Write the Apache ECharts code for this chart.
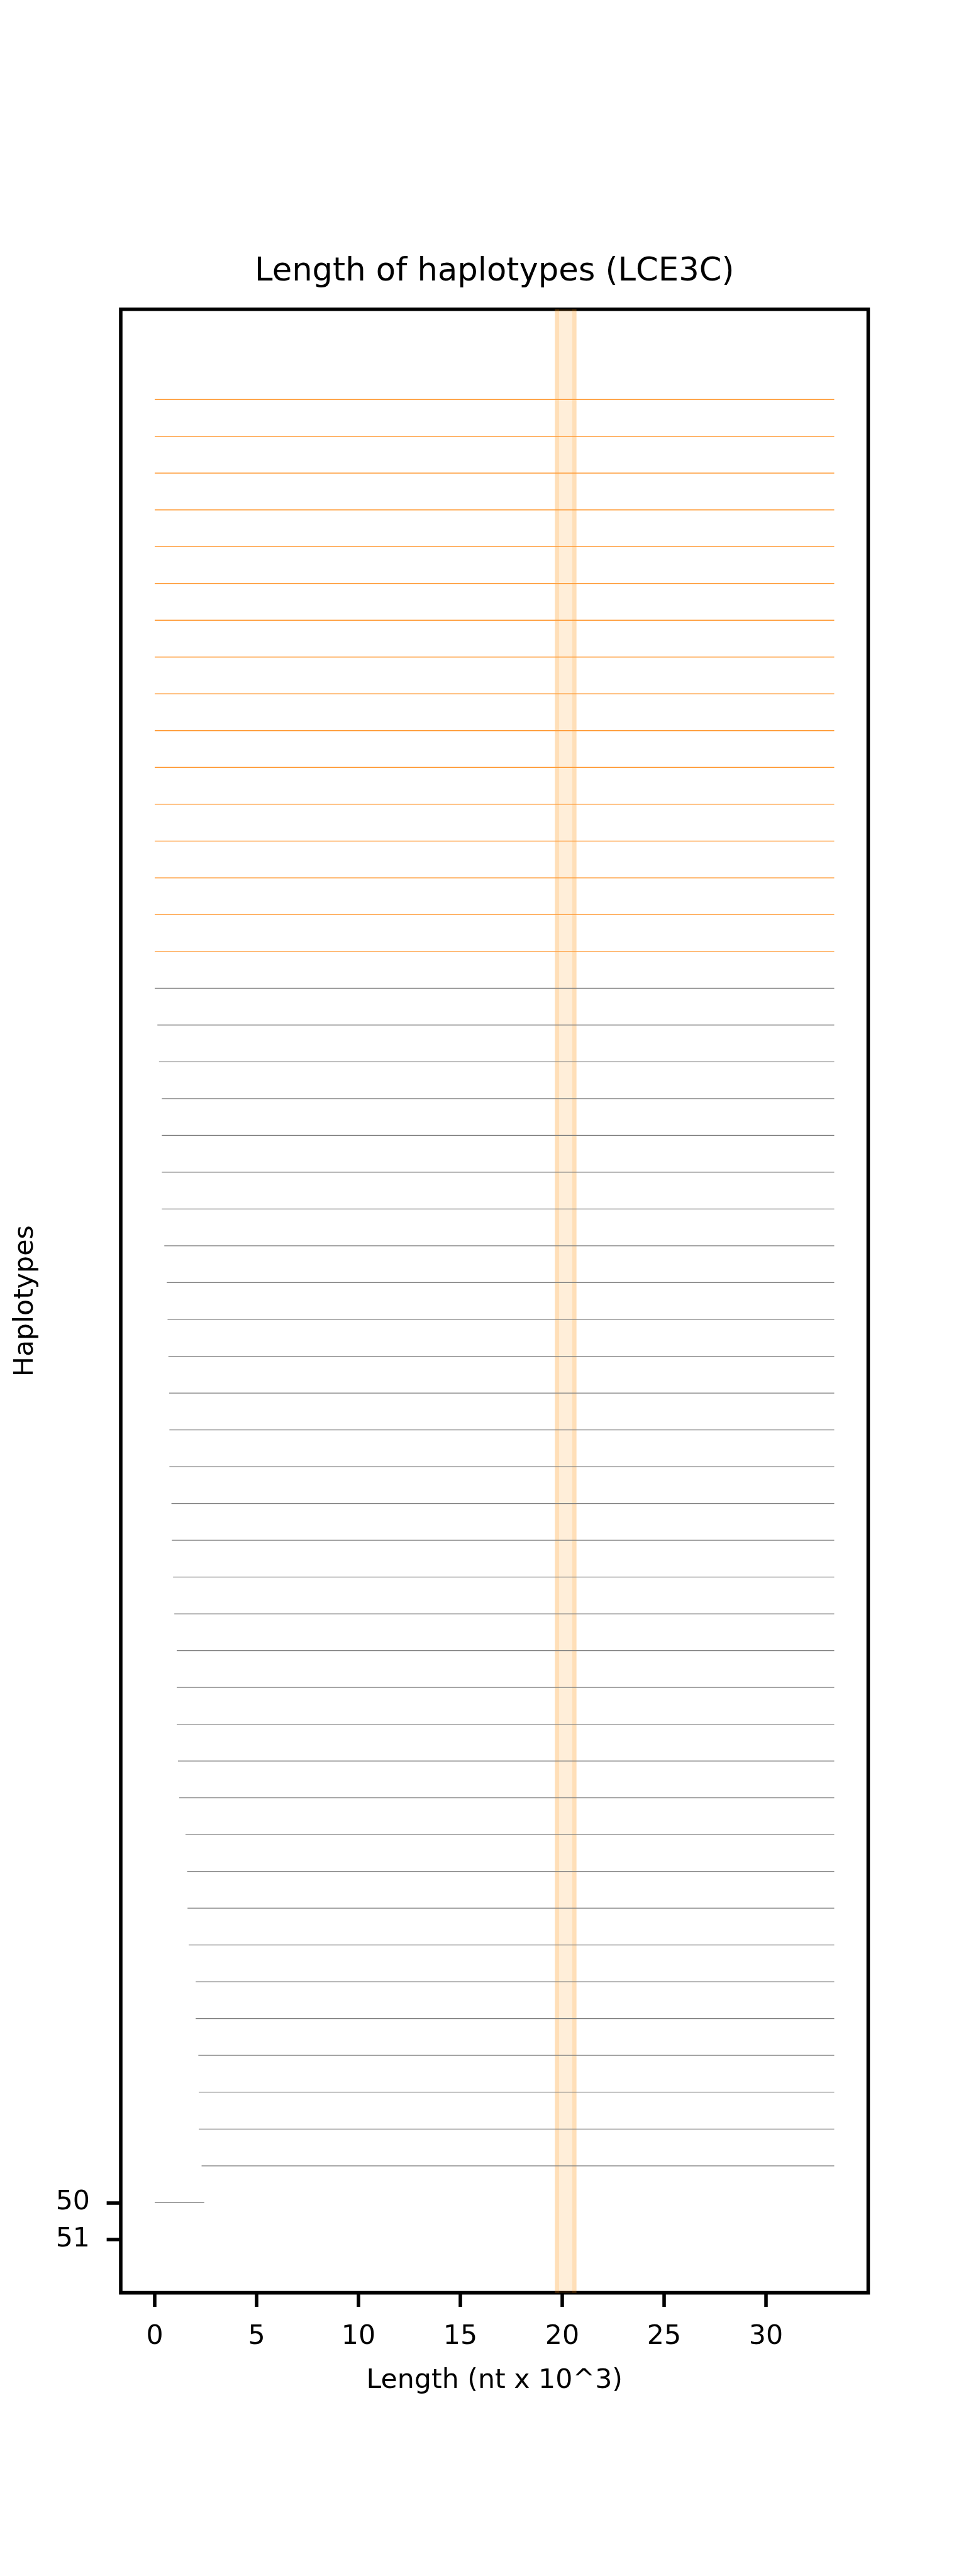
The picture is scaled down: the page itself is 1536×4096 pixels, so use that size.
<!DOCTYPE html>
<html>
<head>
<meta charset="utf-8">
<script src="https://cdn.jsdelivr.net/npm/echarts@6/dist/echarts.min.js"></script>
<style>
html,body{margin:0;padding:0;background:#fff;}
#chart{width:1536px;height:4096px;}
</style>
</head>
<body>
<div id="chart"></div>
<script>
// ---- data ----
const chartTitle = 'Length of haplotypes (LCE3C)';
const xAxisName = 'Length (nt x 10^3)';
const yAxisName = 'Haplotypes';

// haplotype row positions (y)
const hapRows = [1,2,3,4,5,6,7,8,9,10,11,12,13,14,15,16,17,18,19,20,21,22,23,24,25,
                 26,27,28,29,30,31,32,33,34,35,36,37,38,39,40,41,42,43,44,45,46,47,48,49,50];
// start of each haplotype (nt x 10^3)
const hapStart = [0,0,0,0,0,0,0,0,0,0,0,0,0,0,0,0,
                  0,0.13,0.21,0.35,0.35,0.35,0.35,0.47,0.59,0.63,0.67,0.71,0.72,0.72,0.82,0.84,
                  0.90,0.96,1.08,1.08,1.08,1.14,1.20,1.51,1.59,1.61,1.67,2.01,2.01,2.14,2.16,2.16,
                  2.30,0];
// end of each haplotype (nt x 10^3)
const hapEnd = [33.35,33.35,33.35,33.35,33.35,33.35,33.35,33.35,33.35,33.35,33.35,33.35,33.35,33.35,33.35,33.35,
                33.35,33.35,33.35,33.35,33.35,33.35,33.35,33.35,33.35,33.35,33.35,33.35,33.35,33.35,33.35,33.35,
                33.35,33.35,33.35,33.35,33.35,33.35,33.35,33.35,33.35,33.35,33.35,33.35,33.35,33.35,33.35,33.35,
                33.35,2.43];
// 1 = highlighted (orange), 0 = other (gray)
const hapHighlight = [1,1,1,1,1,1,1,1,1,1,1,1,1,1,1,1,
                      0,0,0,0,0,0,0,0,0,0,0,0,0,0,0,0,0,0,0,0,0,0,0,0,0,0,0,0,0,0,0,0,0,0];
// highlighted region (nt x 10^3)
const regionStart = 19.64;
const regionEnd = 20.70;
const regionEdge = 0.21;

const xTicks = [0,5,10,15,20,25,30];
const yTicks = [50,51];
const xRange = [-1.6675, 35.0175];
const yRange = [-1.45, 52.45];

// ---- chart ----
const S = 0.64;
const FONT = 'DejaVu Sans';
const chart = echarts.init(document.getElementById('chart'), null, {renderer:'canvas'});

const segData = hapRows.map((y, i) => [hapStart[i], hapEnd[i], y, hapHighlight[i]]);

const gridLeft = 300*S, gridRight = 1536 - 2157*S, gridTop = 768.5*S, gridBottom = 4096 - 5696.3*S;

const option = {
  backgroundColor: '#ffffff',
  animation: false,
  grid: {
    left: gridLeft, right: gridRight, top: gridTop, bottom: gridBottom,
    show: true, borderColor: '#000', borderWidth: 8.7*S, backgroundColor: 'transparent',
    containLabel: false
  },
  graphic: [{
    type: 'text',
    x: (gridLeft + (1536 - gridRight)) / 2,
    y: 433,
    style: {
      text: chartTitle,
      font: `${(80*S).toFixed(1)}px "${FONT}"`,
      fill: '#000',
      textAlign: 'center',
      textVerticalAlign: 'middle',
      verticalAlign: 'middle'
    },
    z: 100
  }],
  xAxis: {
    type: 'value',
    position: 'bottom',
    min: xRange[0], max: xRange[1],
    axisLine: {show: false, onZero: false},
    splitLine: {show: false},
    axisTick: {show: true, customValues: xTicks, length: 35*S, lineStyle: {color: '#000', width: 8.7*S}},
    axisLabel: {show: true, customValues: xTicks, color: '#000', fontFamily: FONT, fontSize: 66.7*S, margin: 49},
    name: xAxisName,
    nameLocation: 'middle',
    nameGap: 119,
    nameTextStyle: {color: '#000', fontFamily: FONT, fontSize: 66.7*S}
  },
  yAxis: {
    type: 'value',
    position: 'left',
    inverse: true,
    min: yRange[0], max: yRange[1],
    axisLine: {show: false, onZero: false},
    splitLine: {show: false},
    axisTick: {show: true, customValues: yTicks, length: 35*S, lineStyle: {color: '#000', width: 8.7*S}},
    axisLabel: {show: true, customValues: yTicks, color: '#000', fontFamily: FONT, fontSize: 66.7*S, margin: 49},
    name: yAxisName,
    nameLocation: 'middle',
    nameGap: 130,
    nameRotate: 90,
    nameTextStyle: {color: '#000', fontFamily: FONT, fontSize: 66.7*S}
  },
  series: [
    {
      type: 'line',
      data: [],
      z: 1,
      silent: true,
      markArea: {
        silent: true,
        label: {show: false},
        itemStyle: {color: 'rgba(255,140,0,0.15)', borderWidth: 0},
        data: [
          [{xAxis: regionStart}, {xAxis: regionEnd}],
          [{xAxis: regionStart}, {xAxis: regionStart + regionEdge}],
          [{xAxis: regionEnd - regionEdge}, {xAxis: regionEnd}]
        ]
      }
    },
    {
      type: 'custom',
      z: 3,
      silent: true,
      data: segData,
      encode: {x: [0, 1], y: 2},
      renderItem: function (params, api) {
        const p1 = api.coord([api.value(0), api.value(2)]);
        const p2 = api.coord([api.value(1), api.value(2)]);
        const hi = api.value(3) === 1;
        return {
          type: 'line',
          shape: {x1: p1[0], y1: p1[1], x2: p2[0], y2: p2[1]},
          style: {stroke: hi ? '#ff9933' : '#7f7f7f', lineWidth: hi ? 1.4 : 1.25}
        };
      }
    }
  ]
};
chart.setOption(option);
</script>
</body>
</html>
